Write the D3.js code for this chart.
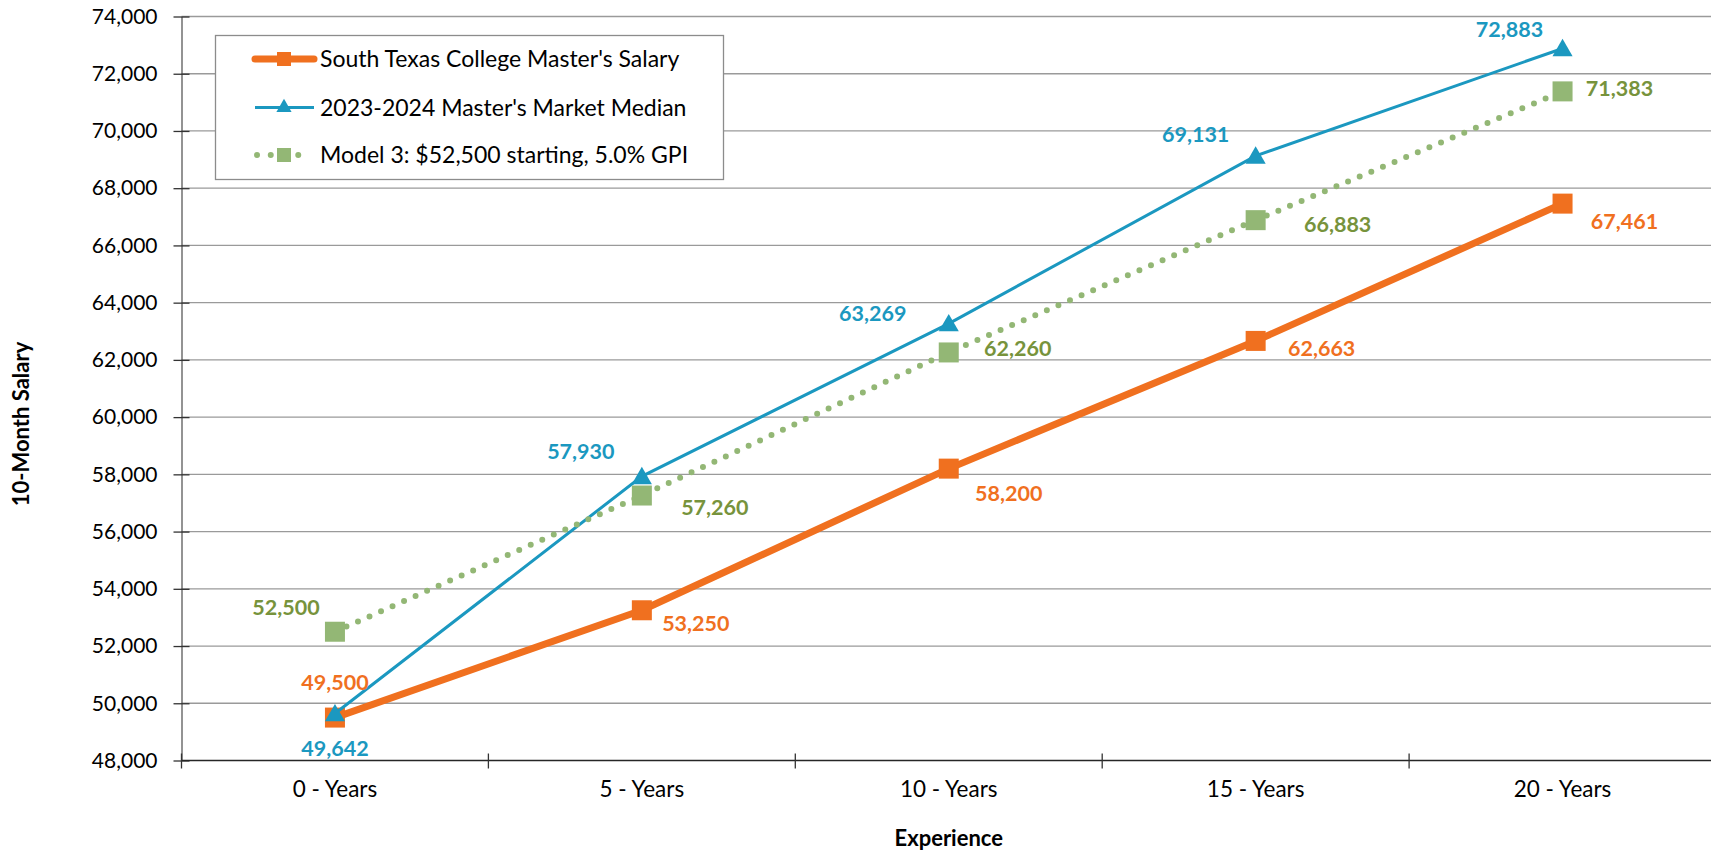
<!DOCTYPE html>
<html>
<head>
<meta charset="utf-8">
<script src="https://cdn.jsdelivr.net/npm/d3@7"></script>
<style>
  html, body { margin: 0; padding: 0; background: #fff; }
  svg { display: block; font-family: Lato, "Open Sans", sans-serif; }
</style>
</head>
<body>
<svg id="chart" width="1711" height="853"></svg>
<script>
// Experience steps on the x axis
const categories = ["0 - Years", "5 - Years", "10 - Years", "15 - Years", "20 - Years"];

// Salary series (10-month)
const collegeSalary = [49500, 53250, 58200, 62663, 67461];
const marketMedian  = [49642, 57930, 63269, 69131, 72883];
const model3        = [52500, 57260, 62260, 66883, 71383];

const seriesNames = [
  "South Texas College Master's Salary",
  "2023-2024 Master's Market Median",
  "Model 3: $52,500 starting, 5.0% GPI"
];

// Y axis tick values
const yTicks = d3.range(48000, 74001, 2000);

// Where each data label sits relative to its point (dx, dy in px)
const labelOffsets = {
  college: [[0, -35], [54, 13], [60, 25], [66, 8], [62, 18]],
  market:  [[0, 35], [-61, -25], [-76, -10], [-60, -21], [-53, -19]],
  model:   [[-49, -24], [73, 12], [69, -4], [82, 4], [57, -3]]
};

const colors = {
  college: "#F0701F",
  market: "#1B98C0",
  modelMark: "#93B775",
  modelText: "#77933C"
};

const svg = d3.select("#chart");
const plot = { left: 181.5, right: 1716, top: 16.5, bottom: 760.5 };

const x = d3.scaleBand().domain(categories).range([plot.left, plot.right]);
const y = d3.scaleLinear().domain([48000, 74000]).range([plot.bottom, plot.top]);
const cx = c => x(c) + x.bandwidth() / 2;

// Horizontal gridlines
svg.append("g")
  .selectAll("line")
  .data(yTicks.filter(t => t !== 48000))
  .join("line")
  .attr("x1", plot.left).attr("x2", plot.right)
  .attr("y1", d => y(d)).attr("y2", d => y(d))
  .attr("stroke", "#9a9a9a").attr("stroke-width", 1.3);

// Y axis
const yAxis = svg.append("g")
  .attr("transform", `translate(${plot.left},0)`)
  .call(d3.axisLeft(y).tickValues(yTicks).tickSize(0).tickPadding(24)
    .tickFormat(d3.format(",")));
yAxis.select(".domain").attr("stroke", "#595959").attr("stroke-width", 1.3);
yAxis.selectAll(".tick text")
  .attr("font-size", 21).attr("fill", "#000").attr("font-family", "Lato, sans-serif");
yAxis.selectAll(".tick").append("line")
  .attr("x1", -8).attr("x2", 8).attr("stroke", "#333").attr("stroke-width", 1.3);

// X axis with ticks between categories
const xAxis = svg.append("g")
  .attr("transform", `translate(0,${plot.bottom})`);
xAxis.append("line")
  .attr("x1", plot.left).attr("x2", plot.right)
  .attr("stroke", "#262626").attr("stroke-width", 1.5);
xAxis.selectAll(".xtick")
  .data(categories)
  .join("line")
  .attr("class", "xtick")
  .attr("x1", d => x(d)).attr("x2", d => x(d))
  .attr("y1", -7).attr("y2", 8)
  .attr("stroke", "#333").attr("stroke-width", 1.3);
xAxis.selectAll(".xlabel")
  .data(categories)
  .join("text")
  .attr("class", "xlabel")
  .attr("x", d => cx(d))
  .attr("y", 36)
  .attr("text-anchor", "middle")
  .attr("font-size", 22.5)
  .attr("fill", "#000")
  .text(d => d);

// Axis titles
svg.append("text")
  .attr("transform", `translate(29,424) rotate(-90)`)
  .attr("text-anchor", "middle")
  .attr("font-size", 22).attr("font-weight", "bold")
  .text("10-Month Salary");
svg.append("text")
  .attr("x", (plot.left + plot.right) / 2).attr("y", 846)
  .attr("text-anchor", "middle")
  .attr("font-size", 22).attr("font-weight", "bold")
  .text("Experience");

const line = d3.line().x((d, i) => cx(categories[i])).y(d => y(d));

// Series 1: college salary (thick orange line, square markers)
svg.append("path").datum(collegeSalary)
  .attr("d", line).attr("fill", "none")
  .attr("stroke", colors.college).attr("stroke-width", 7)
  .attr("stroke-linejoin", "round");
svg.append("g").selectAll("rect").data(collegeSalary).join("rect")
  .attr("x", (d, i) => cx(categories[i]) - 10)
  .attr("y", d => y(d) - 10)
  .attr("width", 20).attr("height", 20)
  .attr("fill", colors.college);

// Series 2: market median (thin blue line, triangle markers)
const tri = d3.symbol().type(d3.symbolTriangle).size(175);
svg.append("path").datum(marketMedian)
  .attr("d", line).attr("fill", "none")
  .attr("stroke", colors.market).attr("stroke-width", 3);
svg.append("g").selectAll("path").data(marketMedian).join("path")
  .attr("d", tri)
  .attr("transform", (d, i) => `translate(${cx(categories[i])},${y(d) + 2})`)
  .attr("fill", colors.market);

// Series 3: model 3 (dotted green line, square markers)
svg.append("path").datum(model3)
  .attr("d", line).attr("fill", "none")
  .attr("stroke", colors.modelMark).attr("stroke-width", 6)
  .attr("stroke-linecap", "round")
  .attr("stroke-dasharray", "0 12.6");
svg.append("g").selectAll("rect").data(model3).join("rect")
  .attr("x", (d, i) => cx(categories[i]) - 10)
  .attr("y", d => y(d) - 10)
  .attr("width", 20).attr("height", 20)
  .attr("fill", colors.modelMark);

// Data labels
const fmt = d3.format(",");
function labels(values, offsets, color) {
  svg.append("g").selectAll("text").data(values).join("text")
    .attr("x", (d, i) => cx(categories[i]) + offsets[i][0])
    .attr("y", (d, i) => y(d) + offsets[i][1])
    .attr("dy", "0.35em")
    .attr("text-anchor", "middle")
    .attr("font-size", 21.5).attr("font-weight", "bold")
    .attr("fill", color)
    .text(d => fmt(d));
}
labels(collegeSalary, labelOffsets.college, colors.college);
labels(marketMedian, labelOffsets.market, colors.market);
labels(model3, labelOffsets.model, colors.modelText);

// Legend
const legend = svg.append("g");
legend.append("rect")
  .attr("x", 215.5).attr("y", 35.5).attr("width", 508).attr("height", 144)
  .attr("fill", "#fff").attr("stroke", "#8c8c8c").attr("stroke-width", 1.3);
const rows = [59, 107.5, 155];
const lx1 = 255, lx2 = 314, lmid = 284;

// row 1
legend.append("line").attr("x1", lx1).attr("x2", lx2).attr("y1", rows[0]).attr("y2", rows[0])
  .attr("stroke", colors.college).attr("stroke-width", 7).attr("stroke-linecap", "round");
legend.append("rect").attr("x", lmid - 7).attr("y", rows[0] - 7).attr("width", 14).attr("height", 14)
  .attr("fill", colors.college);
// row 2
legend.append("line").attr("x1", lx1).attr("x2", lx2).attr("y1", rows[1]).attr("y2", rows[1])
  .attr("stroke", colors.market).attr("stroke-width", 3);
legend.append("path").attr("d", d3.symbol().type(d3.symbolTriangle).size(100))
  .attr("transform", `translate(${lmid},${rows[1]})`).attr("fill", colors.market);
// row 3
legend.append("line").attr("x1", 257).attr("x2", 312).attr("y1", rows[2]).attr("y2", rows[2])
  .attr("stroke", colors.modelMark).attr("stroke-width", 6).attr("stroke-linecap", "round")
  .attr("stroke-dasharray", "0 13.75");
legend.append("rect").attr("x", lmid - 7).attr("y", rows[2] - 7).attr("width", 14).attr("height", 14)
  .attr("fill", colors.modelMark);

legend.selectAll(".ltext").data(seriesNames).join("text")
  .attr("class", "ltext")
  .attr("x", 320).attr("y", (d, i) => rows[i])
  .attr("dy", "0.35em")
  .attr("font-size", 23).attr("fill", "#000")
  .text(d => d);
</script>
</body>
</html>
